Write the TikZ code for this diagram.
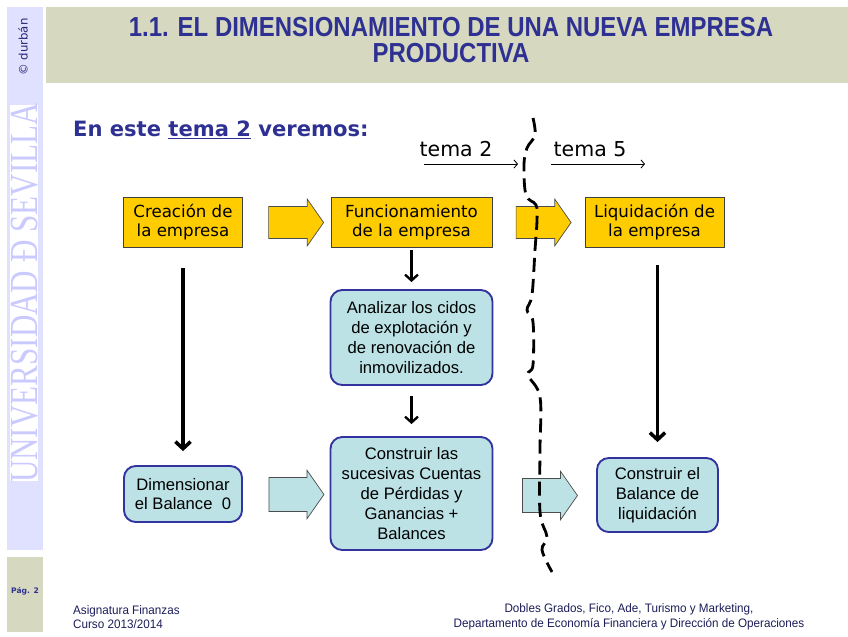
\documentclass[tikz,border=0pt]{standalone}
\usepackage{fontspec}
\setmainfont{DejaVu Sans}
\newfontfamily\titlefont[FakeStretch=0.87]{Liberation Sans}
\newfontfamily\footfont[FakeStretch=0.95]{Liberation Sans}
\newfontfamily\cyanfont{Liberation Sans}
\newfontfamily\logofont[FakeStretch=0.78]{Liberation Serif}
\usetikzlibrary{arrows.meta,shapes.arrows,positioning}
\definecolor{usblue}{RGB}{46,49,146}
\definecolor{slideolive}{RGB}{214,217,191}
\definecolor{sidelav}{RGB}{224,224,255}
\definecolor{boxyellow}{RGB}{255,204,0}
\definecolor{boxcyan}{RGB}{188,226,230}
\definecolor{boxedge}{RGB}{51,51,160}

\begin{document}
\begin{tikzpicture}[x=0.03cm, y=-0.03cm,
  yellowbox/.style={draw=black!75, fill=boxyellow, line width=0.8pt, align=center,
    font=\fontsize{14.2}{16.2}\selectfont},
  cyanbox/.style={draw=boxedge, fill=boxcyan, line width=1.6pt, rounded corners=10pt, align=center,
    font=\cyanfont\fontsize{14.2}{17}\selectfont},
  blockarrow/.style={single arrow, draw=black!70, line width=0.6pt, minimum height=1.65cm,
    inner xsep=0pt, inner ysep=0.47cm, single arrow head extend=0.22cm, single arrow tip angle=110},
  downarrow/.style={-{Straight Barb[length=6pt,width=13pt]}, line width=3pt},
  shortarrow/.style={-{Straight Barb[length=5pt,width=11pt]}, line width=2pt},
  temaarrow/.style={-{Straight Barb[length=3pt,width=7pt]}, line width=0.7pt}]
  \useasboundingbox (0,0) rectangle (848,636);
  % side bar and title band
  \fill[sidelav] (7,7) rectangle (43,550);
  \fill[white] (10,105) rectangle (38,481);
  \fill[slideolive] (7,557) rectangle (43,632);
  \fill[slideolive] (46,7) rectangle (848,83);
  \node[rotate=90, font=\fontsize{10}{11}\selectfont, text=usblue!80!black] (copy) at (23,47) {© durbán};
  \node[rotate=90, font=\logofont\fontsize{34}{34}\selectfont, text=sidelav!90!blue] (logo) at (25,293) {UNIVERSIDAD Ð SEVILLA};
  \node[font=\bfseries\fontsize{6.5}{7}\selectfont, text=usblue] (pag) at (25,591) {Pág. 2};
  \node[font=\titlefont\bfseries\fontsize{23.5}{23}\selectfont, text=usblue, align=center] (title) at (451,40)
    {1.1. EL DIMENSIONAMIENTO DE UNA NUEVA EMPRESA\\PRODUCTIVA};
  \node[anchor=west, font=\bfseries\fontsize{18}{20}\selectfont, text=usblue] (intro) at (69,130)
    {En este \underline{tema 2} veremos:};
  % tema labels
  \node[font=\fontsize{17.5}{19}\selectfont] (t2) at (456,149) {tema 2};
  \node[font=\fontsize{17.5}{19}\selectfont] (t5) at (590,149) {tema 5};
  \coordinate (t2a) at (424,164); \coordinate (t2b) at (518,164);
  \coordinate (t5a) at (551,164); \coordinate (t5b) at (645,164);
  \draw[temaarrow] (t2a) -- (t2b);
  \draw[temaarrow] (t5a) -- (t5b);
  % top row
  \node[yellowbox, minimum width=3.57cm, minimum height=1.5cm] (crea) at (183,222) {Creación de\\la empresa};
  \node[yellowbox, minimum width=4.83cm, minimum height=1.5cm] (func) at (411.5,222) {Funcionamiento\\de la empresa};
  \node[yellowbox, minimum width=4.17cm, minimum height=1.5cm] (liqu) at (654.5,222) {Liquidación de\\la empresa};
  \node[blockarrow, fill=boxyellow] (ya1) at (290.5,222.5) {};
  \node[blockarrow, fill=boxyellow] (ya2) at (538,222.5) {};
  % middle column
  \node[cyanbox, minimum width=4.86cm, minimum height=2.85cm] (anal) at (411.5,337.5)
    {Analizar los cidos\\de explotación y\\de renovación de\\inmovilizados.};
  \node[cyanbox, minimum width=4.86cm, minimum height=3.39cm] (cons) at (411.5,493.5)
    {Construir las\\sucesivas Cuentas\\de Pérdidas y\\Ganancias +\\Balances};
  \node[cyanbox, minimum width=3.54cm, minimum height=1.68cm] (dime) at (183,494)
    {Dimensionar\\el Balance\ \ 0};
  \node[cyanbox, minimum width=3.63cm, minimum height=2.22cm] (bliq) at (657.5,495)
    {Construir el\\Balance de\\liquidación};
  \node[blockarrow, fill=boxcyan, inner ysep=0.5cm] (ca1) at (290.5,494.5) {};
  \node[blockarrow, fill=boxcyan, inner ysep=0.5cm] (ca2) at (544,495.5) {};
  % vertical arrows
  \draw[downarrow, shorten <=0.63cm, shorten >=0.42cm] (crea.south) -- (dime.north);
  \draw[shortarrow, shorten <=0.09cm, shorten >=0.21cm] (func.south) -- (anal.north);
  \draw[shortarrow, shorten <=0.3cm, shorten >=0.36cm] (anal.south) -- (cons.north);
  \draw[downarrow, shorten <=0.54cm, shorten >=0.45cm] (bliq.north |- liqu.south) -- (bliq.north);
  % cut line
  \draw[line width=2.4pt, dashed, dash pattern=on 12pt off 6pt] plot[smooth, tension=0.6] coordinates
    {(533,118) (535,135) (527,148) (524,165) (526,195) (536,205) (537,220) (535,250) (532,295)
     (527,310) (533,322) (533,365) (528,375) (540,397) (540,450) (540,512) (547,537) (542,550) (552,572)};
  % footer
  \node[anchor=west, align=left, font=\footfont\fontsize{10.5}{12.5}\selectfont, text=usblue!60!black] (foot1) at (69,617)
    {Asignatura Finanzas\\Curso 2013/2014};
  \node[align=center, font=\footfont\fontsize{10.5}{12.5}\selectfont, text=usblue!60!black] (foot2) at (629,617)
    {Dobles Grados, Fico, Ade, Turismo y Marketing,\\Departamento de Economía Financiera y Dirección de Operaciones};
\end{tikzpicture}
\end{document}
